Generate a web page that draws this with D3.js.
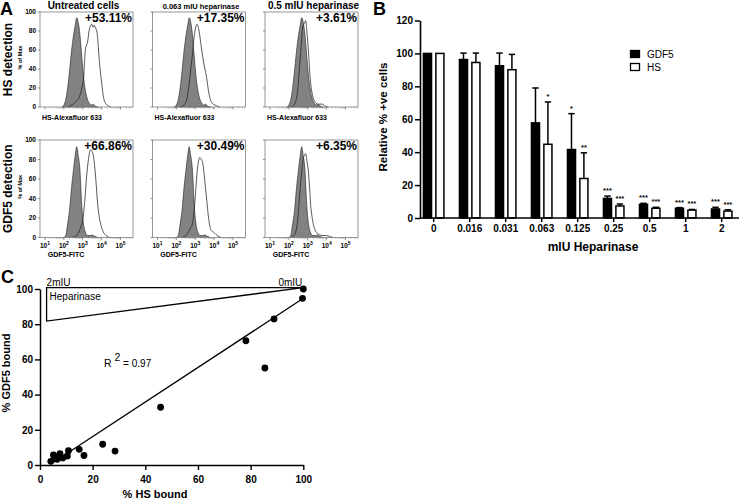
<!DOCTYPE html>
<html><head><meta charset="utf-8">
<script src="https://cdn.jsdelivr.net/npm/d3@7"></script>
<style>body{margin:0;background:#fff}svg{font-family:"Liberation Sans",Arial,sans-serif;display:block}</style>
</head><body><svg id="c" width="741" height="501"></svg>
<script>
// ---------- Panel A data: histograms as [log10 intensity, % of max] ----------
const histTitles = ["Untreated cells", "0.063 mIU heparinase", "0.5 mIU heparinase"];
const histRowLabels = ["HS detection", "GDF5 detection"];
const histXLabels = ["HS-Alexafluor 633", "GDF5-FITC"];
const histPercents = [["+53.11%", "+17.35%", "+3.61%"], ["+66.86%", "+30.49%", "+6.35%"]];
const histYTicks = [0, 20, 40, 60, 80, 100];
const histXTicks = [1, 2, 3, 4, 5];

const greyHS = [[1.9,0],[2.0,2],[2.1,8],[2.2,20],[2.3,38],[2.4,58],[2.5,74],[2.6,86],[2.68,94],[2.75,90],[2.85,76],[2.95,52],[3.05,30],[3.15,16],[3.25,8],[3.35,4],[3.45,2],[3.55,3],[3.65,1],[3.8,0]];
const greyGDF5 = [[2.0,0],[2.1,2],[2.2,14],[2.3,28],[2.4,50],[2.5,68],[2.6,84],[2.68,93],[2.75,85],[2.85,69],[2.93,38],[3.0,20],[3.06,11],[3.15,5],[3.25,2],[3.4,2],[3.5,2.5],[3.65,1],[3.8,0]];
const whiteHSUntreated = [[2.2,0],[2.4,2],[2.6,5],[2.8,10],[2.95,20],[3.05,32],[3.1,50],[3.15,62],[3.25,68],[3.35,82],[3.42,86],[3.48,87],[3.54,84],[3.6,86],[3.68,83],[3.76,78],[3.82,64],[3.88,48],[3.95,34],[4.02,22],[4.1,10],[4.2,4],[4.3,2],[4.5,0]];
const whiteHS063 = [[2.2,0],[2.4,2],[2.55,8],[2.65,20],[2.75,38],[2.85,55],[2.93,72],[3.0,82],[3.1,87],[3.2,80],[3.3,66],[3.4,52],[3.5,41],[3.6,31],[3.7,17],[3.8,8],[3.9,4],[4.05,2],[4.3,0]];
const whiteHS05 = [[2.1,0],[2.3,3],[2.45,15],[2.55,38],[2.65,65],[2.75,86],[2.82,88],[2.89,91],[2.95,80],[3.03,60],[3.12,32],[3.2,18],[3.27,11],[3.4,5],[3.55,3],[3.7,3],[3.8,3],[3.9,1],[4.1,0]];
const whiteGDF5Untreated = [[2.4,0],[2.6,1],[2.8,6],[2.9,11],[3.0,18],[3.1,36],[3.2,62],[3.3,80],[3.41,90],[3.5,88],[3.56,84],[3.65,69],[3.72,52],[3.8,32],[3.9,18],[4.0,10],[4.08,6],[4.18,3],[4.3,1],[4.45,0]];
const whiteGDF5063 = [[2.3,0],[2.5,2],[2.65,6],[2.75,10],[2.85,14],[2.95,30],[3.03,50],[3.1,68],[3.17,78],[3.24,82],[3.32,80],[3.41,75],[3.48,63],[3.54,51],[3.62,36],[3.68,24],[3.75,14],[3.82,8],[3.92,6],[4.0,5],[4.1,3],[4.2,1.5],[4.37,0]];
const whiteGDF505 = [[2.1,0],[2.3,3],[2.45,15],[2.55,38],[2.65,62],[2.75,80],[2.82,84],[2.89,86],[2.96,78],[3.03,68],[3.1,50],[3.15,34],[3.22,22],[3.29,14],[3.38,8],[3.47,5],[3.6,3],[3.8,2],[4.0,2],[4.15,1],[4.35,0]];
const greyCurves = [greyHS, greyGDF5];
const whiteCurves = [[whiteHSUntreated, whiteHS063, whiteHS05], [whiteGDF5Untreated, whiteGDF5063, whiteGDF505]];

// ---------- Panel B data ----------
const doses = ["0", "0.016", "0.031", "0.063", "0.125", "0.25", "0.5", "1", "2"];
const gdf5Values = [100, 96.3, 92.5, 57.8, 41.6, 11.9, 8.3, 5.9, 5.5];
const hsValues = [100, 94.5, 90.1, 44.8, 24.0, 7.3, 5.9, 4.8, 4.2];
const gdf5Err = [0, 3.9, 7.7, 21.2, 21.8, 1.4, 0.6, 0.4, 1.0];
const hsErr = [0, 5.7, 9.3, 25.7, 15.6, 1.2, 0.6, 0.4, 0.8];
const gdf5Sig = ["", "", "", "", "*", "***", "***", "***", "***"];
const hsSig = ["", "", "", "*", "**", "***", "***", "***", "***"];
const bYTicks = [0, 20, 40, 60, 80, 100, 120];
const seriesNames = ["GDF5", "HS"];

// ---------- Panel C data ----------
const hsBound = [100, 99.7, 88.9, 78.2, 85.4, 45.8, 23.8, 28.5, 14.9, 16.7, 10.8, 10.4, 7.6, 8.6, 5.3, 5.1, 4.1, 6.5];
const gdf5Bound = [100, 94.7, 83.0, 70.6, 55.1, 32.8, 11.8, 7.9, 8.9, 5.4, 8.1, 5.1, 6.4, 4.0, 5.1, 5.8, 2.1, 3.2];
const fitLine = [[4.0, 0.4], [100, 94.7]];
const wedge = [[2.5, 100.8], [100, 100.8], [2.5, 81.8]];
const cTicks = [0, 20, 40, 60, 80, 100];

const svg = d3.select("#c");
const FONT = '"Liberation Sans",Arial,sans-serif';

// ================= PANEL A =================
const panelLefts = [40, 152.5, 265];
const panelW = 93;
const rowTops = [12, 140];
const rowBots = [107, 237.5];

svg.append("text").attr("x", 0).attr("y", 15).attr("font-size", 18).attr("font-weight", "bold").text("A");

histTitles.forEach((t, i) => {
  svg.append("text").attr("x", panelLefts[i] + panelW / 2 + (i === 0 ? -3 : 2)).attr("y", 8.5)
    .attr("text-anchor", "middle").attr("font-weight", "bold")
    .attr("font-size", i === 1 ? 7.5 : 10).text(t);
});

for (let r = 0; r < 2; r++) {
  const y = d3.scaleLinear().domain([0, 100]).range([rowBots[r], rowTops[r]]);
  const cy = (rowTops[r] + rowBots[r]) / 2;
  svg.append("text").attr("transform", `translate(12,${cy}) rotate(-90)`)
    .attr("text-anchor", "middle").attr("font-size", 12).attr("font-weight", "bold").text(histRowLabels[r]);
  svg.append("text").attr("transform", `translate(22,${cy - 2}) rotate(-90)`)
    .attr("text-anchor", "middle").attr("font-size", 5.5).attr("font-weight", "bold").text("% of Max");

  for (let p = 0; p < 3; p++) {
    const L = panelLefts[p];
    const x = d3.scaleLinear().domain([0.735, 5.66]).range([L, L + panelW]);
    const g = svg.append("g");
    const area = d3.area().x(d => x(d[0])).y0(y(0)).y1(d => y(d[1])).curve(d3.curveMonotoneX);
    const line = d3.line().x(d => x(d[0])).y(d => y(d[1])).curve(d3.curveMonotoneX);
    g.append("path").datum(greyCurves[r]).attr("d", area).attr("fill", "#828282").attr("stroke", "#333").attr("stroke-width", 0.7);
    g.append("path").datum(whiteCurves[r][p]).attr("d", line).attr("fill", "none").attr("stroke", "#222").attr("stroke-width", 0.75);
    g.append("rect").attr("x", L).attr("y", rowTops[r]).attr("width", panelW).attr("height", rowBots[r] - rowTops[r])
      .attr("fill", "none").attr("stroke", "#8c8c8c").attr("stroke-width", 0.9);
    histYTicks.forEach(v => {
      g.append("line").attr("x1", L - 2).attr("x2", L).attr("y1", y(v)).attr("y2", y(v)).attr("stroke", "#666").attr("stroke-width", 0.7);
      if (p === 0) g.append("text").attr("x", L - 4).attr("y", y(v) + 2.3).attr("text-anchor", "end")
        .attr("font-size", 6.5).attr("font-weight", "bold").text(v);
    });
    histXTicks.forEach(e => {
      g.append("line").attr("x1", x(e)).attr("x2", x(e)).attr("y1", rowBots[r]).attr("y2", rowBots[r] + 2.5).attr("stroke", "#666").attr("stroke-width", 0.7);
      for (let k = 2; k <= 9; k++) {
        const v = e + Math.log10(k);
        if (v < 5.66) g.append("line").attr("x1", x(v)).attr("x2", x(v)).attr("y1", rowBots[r]).attr("y2", rowBots[r] + 1.5).attr("stroke", "#888").attr("stroke-width", 0.5);
      }
      if (r === 1) {
        const t = g.append("text").attr("x", x(e)).attr("y", rowBots[r] + 10).attr("text-anchor", "middle").attr("font-size", 6.5).attr("font-weight", "bold");
        t.append("tspan").text("10");
        t.append("tspan").attr("dy", -2.5).attr("font-size", 5).text(e);
      }
    });
    svg.append("text").attr("x", L + panelW - 1).attr("y", rowTops[r] + 10).attr("text-anchor", "end")
      .attr("font-size", 12).attr("font-weight", "bold").text(histPercents[r][p]);
    svg.append("text").attr("x", L + (r === 0 ? 32 : 26)).attr("y", r === 0 ? 120 : 257)
      .attr("text-anchor", "middle").attr("font-size", 7).attr("font-weight", "bold").text(histXLabels[r]);
  }
}

// ================= PANEL B =================
svg.append("text").attr("x", 373).attr("y", 15).attr("font-size", 18).attr("font-weight", "bold").text("B");
const bx0 = d3.scaleBand().domain(doses).range([420, 735.4]).paddingInner(0.389).paddingOuter(0.075);
const bx1 = d3.scaleBand().domain(seriesNames).range([0, bx0.bandwidth()]).paddingInner(0.23);
const by = d3.scaleLinear().domain([0, 120]).range([218, 20.5]);
const gb = svg.append("g");

gb.append("g").attr("transform", "translate(420,0)")
  .call(d3.axisLeft(by).tickValues(bYTicks).tickSize(5).tickSizeOuter(0))
  .call(a => { a.select(".domain").attr("stroke-width", 1.6); a.selectAll(".tick line").attr("stroke-width", 1.5);
    a.selectAll("text").attr("font-size", 10).attr("font-weight", "bold").attr("font-family", FONT).attr("x", -7); });

const bars = [
  { vals: gdf5Values, err: gdf5Err, sig: gdf5Sig, fill: "#000", key: "GDF5" },
  { vals: hsValues, err: hsErr, sig: hsSig, fill: "#fff", key: "HS" }
];
bars.forEach(s => {
  doses.forEach((d, i) => {
    const x = bx0(d) + bx1(s.key);
    const w = bx1.bandwidth();
    const v = s.vals[i];
    const top = v + s.err[i];
    const cx = x + w / 2;
    if (s.err[i] > 0) {
      gb.append("line").attr("x1", cx).attr("x2", cx).attr("y1", by(v)).attr("y2", by(top)).attr("stroke", "#000").attr("stroke-width", 1.5);
      gb.append("line").attr("x1", cx - 3.2).attr("x2", cx + 3.2).attr("y1", by(top)).attr("y2", by(top)).attr("stroke", "#000").attr("stroke-width", 1.5);
    }
    gb.append("rect").attr("x", x + 0.75).attr("y", by(v)).attr("width", w - 1.5).attr("height", by(0) - by(v))
      .attr("fill", s.fill).attr("stroke", "#000").attr("stroke-width", 1.5);
    if (s.sig[i]) gb.append("text").attr("x", cx).attr("y", by(top) - 3).attr("text-anchor", "middle")
      .attr("font-size", 7.5).attr("font-weight", "bold").text(s.sig[i]);
  });
});

gb.append("g").attr("transform", "translate(0,218)")
  .call(d3.axisBottom(bx0).tickSize(4).tickSizeOuter(0))
  .call(a => { a.select(".domain").remove(); a.selectAll(".tick line").attr("stroke-width", 1.5);
    a.selectAll("text").attr("font-size", 10).attr("font-weight", "bold").attr("font-family", FONT).attr("dy", "0.71em"); });
gb.append("line").attr("x1", 420).attr("x2", 739).attr("y1", 218).attr("y2", 218).attr("stroke", "#000").attr("stroke-width", 1.6);

gb.append("text").attr("x", 593).attr("y", 251).attr("text-anchor", "middle").attr("font-size", 12).attr("font-weight", "bold").text("mIU Heparinase");
gb.append("text").attr("transform", "translate(387,117) rotate(-90)").attr("text-anchor", "middle").attr("font-size", 11.5).attr("font-weight", "bold").text("Relative % +ve cells");

seriesNames.forEach((n, i) => {
  gb.append("rect").attr("x", 630.5).attr("y", 50.5 + i * 13).attr("width", 9).attr("height", 7)
    .attr("fill", i === 0 ? "#000" : "#fff").attr("stroke", "#000").attr("stroke-width", 1.3);
  gb.append("text").attr("x", 647).attr("y", 57.5 + i * 13).attr("font-size", 10).text(n);
});

// ================= PANEL C =================
svg.append("text").attr("x", 1).attr("y", 283).attr("font-size", 18).attr("font-weight", "bold").text("C");
const cx = d3.scaleLinear().domain([0, 100]).range([40, 303.3]);
const cy = d3.scaleLinear().domain([0, 100]).range([465, 289]);
const gc = svg.append("g");

gc.append("g").attr("transform", "translate(40,0)")
  .call(d3.axisLeft(cy).tickValues(cTicks).tickSize(5).tickSizeOuter(0))
  .call(a => { a.select(".domain").attr("stroke-width", 1.5); a.selectAll(".tick line").attr("stroke-width", 1.4);
    a.selectAll("text").attr("font-size", 10).attr("font-weight", "bold").attr("font-family", FONT).attr("x", -7); });
gc.append("g").attr("transform", "translate(0,465)")
  .call(d3.axisBottom(cx).tickValues(cTicks).tickSize(5).tickSizeOuter(0))
  .call(a => { a.select(".domain").attr("stroke-width", 1.5); a.selectAll(".tick line").attr("stroke-width", 1.4);
    a.selectAll("text").attr("font-size", 10).attr("font-weight", "bold").attr("font-family", FONT).attr("dy", "0.95em"); });

gc.append("path").datum(wedge).attr("d", d3.line().x(d => cx(d[0])).y(d => cy(d[1])).curve(d3.curveLinearClosed))
  .attr("fill", "none").attr("stroke", "#000").attr("stroke-width", 1.3);
gc.append("text").attr("x", cx(wedge[0][0])).attr("y", cy(wedge[0][1]) - 2).attr("font-size", 10).text("2mIU");
gc.append("text").attr("x", cx(wedge[1][0]) - 1).attr("y", cy(wedge[1][1]) - 2).attr("text-anchor", "end").attr("font-size", 10).text("0mIU");
gc.append("text").attr("x", cx(wedge[0][0]) + 3).attr("y", cy(wedge[0][1]) + 12).attr("font-size", 10).text("Heparinase");

gc.append("path").datum(fitLine).attr("d", d3.line().x(d => cx(d[0])).y(d => cy(d[1])))
  .attr("stroke", "#000").attr("stroke-width", 1.3).attr("fill", "none");

hsBound.forEach((h, i) => {
  gc.append("circle").attr("cx", cx(h)).attr("cy", cy(gdf5Bound[i])).attr("r", 3.4).attr("fill", "#000");
});

const r2 = gc.append("text").attr("x", 104).attr("y", 367).attr("font-size", 10.5);
r2.append("tspan").text("R ");
r2.append("tspan").attr("dy", -6).text("2");
r2.append("tspan").attr("dy", 6).attr("font-size", 10).text(" = 0.97");

gc.append("text").attr("transform", "translate(10,373) rotate(-90)").attr("text-anchor", "middle").attr("font-size", 11).attr("font-weight", "bold").text("% GDF5 bound");
gc.append("text").attr("x", 155).attr("y", 498).attr("text-anchor", "middle").attr("font-size", 11).attr("font-weight", "bold").text("% HS bound");
</script></body></html>
